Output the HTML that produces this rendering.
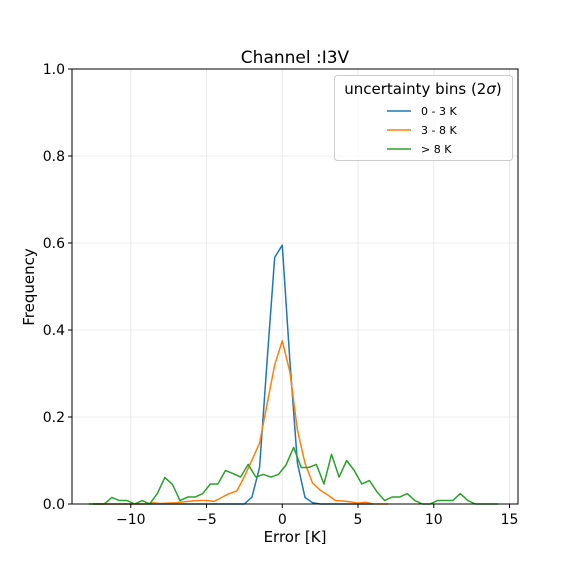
<!DOCTYPE html>
<html><head><meta charset="utf-8"><style>
html,body{margin:0;padding:0;background:#fff;}
svg{display:block;font-family:"DejaVu Sans","Liberation Sans",sans-serif;}
</style></head><body>
<svg id="chart" width="576" height="576" viewBox="0 0 576 576">
<rect width="576" height="576" fill="#fff"/>
<g id="grid"></g>
<g id="series"></g>
<rect x="72" y="69" width="446" height="435" fill="none" stroke="#000" stroke-width="1"/>
<g id="ticks"></g>
<text x="295" y="63" text-anchor="middle" font-size="17">Channel :I3V</text>
<text x="295" y="542" text-anchor="middle" font-size="15">Error [K]</text>
<text transform="translate(34,287) rotate(-90)" text-anchor="middle" font-size="15">Frequency</text>
<g>
<rect x="334.5" y="75.5" width="178" height="85" rx="3" fill="#fff" fill-opacity="0.8" stroke="#ccc"/>
<text x="423" y="94" text-anchor="middle" font-size="15">uncertainty bins (2<tspan font-style="italic">σ</tspan>)</text>
<line x1="387" y1="111" x2="411" y2="111" stroke="#1f77b4" stroke-width="1.5"/>
<text x="421" y="115" font-size="11">0 - 3 K</text>
<line x1="387" y1="130" x2="411" y2="130" stroke="#ff7f0e" stroke-width="1.5"/>
<text x="421" y="134" font-size="11">3 - 8 K</text>
<line x1="387" y1="149" x2="411" y2="149" stroke="#2ca02c" stroke-width="1.5"/>
<text x="421" y="153" font-size="11">&gt; 8 K</text>
</g>
</svg>
<script>
const xTicks = [-10, -5, 0, 5, 10, 15];
const yTicks = [0, 0.2, 0.4, 0.6, 0.8, 1.0];
const yTickLabels = ["0.0", "0.2", "0.4", "0.6", "0.8", "1.0"];
const blueX = [-12.5,-12,-11.5,-11,-10.5,-10,-9.5,-9,-8.5,-8,-7.5,-7,-6.5,-6,-5.5,-5,-4.5,-4,-3.5,-3,-2.5,-2,-1.5,-1,-0.5,0,0.5,1,1.5,2,2.5,3,3.5,4,4.5,5,5.5,6];
const blueY = [0,0,0,0,0,0,0,0,0,0,0,0,0,0,0,0,0,0,0,0,0,0.016,0.084,0.33,0.567,0.595,0.33,0.094,0.015,0.003,0,0,0,0,0,0,0,0];
const orangeX = [-12.5,-12,-11.5,-11,-10.5,-10,-9.5,-9,-8.5,-8,-7.5,-7,-6.5,-6,-5.5,-5,-4.5,-4,-3.5,-3,-2.5,-2,-1.5,-1,-0.5,0,0.5,1,1.5,2,2.5,3,3.5,4,4.5,5,5.5,6,6.5,7];
const orangeY = [0,0,0,0,0,0,0,0,0.003,0.001,0.002,0.003,0.005,0.007,0.008,0.008,0.006,0.015,0.024,0.03,0.063,0.101,0.14,0.23,0.32,0.375,0.304,0.17,0.094,0.048,0.032,0.021,0.008,0.007,0.005,0.002,0.004,0,0,0];
const greenX = [-12.75,-12.25,-11.75,-11.25,-10.75,-10.25,-9.75,-9.25,-8.75,-8.25,-7.75,-7.25,-6.75,-6.25,-5.75,-5.25,-4.75,-4.25,-3.75,-3.25,-2.75,-2.25,-1.75,-1.25,-0.75,-0.25,0.25,0.75,1.25,1.75,2.25,2.75,3.25,3.75,4.25,4.75,5.25,5.75,6.25,6.75,7.25,7.75,8.25,8.75,9.25,9.75,10.25,10.75,11.25,11.75,12.25,12.75,13.25,13.75,14.25];
const greenY = [0,0,0,0.015,0.008,0.008,0,0.008,0,0.024,0.061,0.045,0.008,0.016,0.016,0.024,0.046,0.046,0.077,0.07,0.062,0.091,0.062,0.068,0.062,0.068,0.09,0.13,0.084,0.084,0.091,0.046,0.114,0.062,0.1,0.077,0.046,0.054,0.028,0.008,0.016,0.016,0.024,0.008,0,0,0.008,0.008,0.008,0.024,0.008,0,0,0,0];

const NS = "http://www.w3.org/2000/svg";
const L = 72, R = 518, T = 69, B = 504;
const xMin = -13.88, xMax = 15.56;
function xs(v){ return L + (v - xMin) / (xMax - xMin) * (R - L); }
function ys(v){ return B - v * (B - T); }
const grid = document.getElementById('grid');
const ticks = document.getElementById('ticks');
const series = document.getElementById('series');
function mk(tag, attrs, parent){ const e = document.createElementNS(NS, tag); for (const k in attrs) e.setAttribute(k, attrs[k]); parent.appendChild(e); return e; }
xTicks.forEach(v => {
  const x = xs(v);
  const g = mk('line', {x1:x, x2:x, y1:T, y2:B, stroke:'#e6e6e6', 'stroke-width':0.8}, grid);
  
  
  const t = mk('line', {x1:x, x2:x, y1:B, y2:B+4, stroke:'#000'}, ticks);
  
  
  const lb = mk('text', {x:x, y:B+20, 'text-anchor':'middle', 'font-size':14}, ticks);
  lb.textContent = v < 0 ? '\u2212' + Math.abs(v) : String(v);
  
  
});
yTicks.forEach((v, i) => {
  const y = ys(v);
  const g = mk('line', {x1:L, x2:R, y1:y, y2:y, stroke:'#e6e6e6', 'stroke-width':0.8}, grid);
  
  
  const t = mk('line', {x1:L-4, x2:L, y1:y, y2:y, stroke:'#000'}, ticks);
  
  
  const lb = mk('text', {x:L-7, y:y+5, 'text-anchor':'end', 'font-size':14}, ticks);
  lb.textContent = yTickLabels[i];
  
  
});
function line(xa, ya, color, name){
  const d = xa.map((v, i) => (i ? 'L' : 'M') + xs(v).toFixed(2) + ',' + ys(ya[i]).toFixed(2)).join(' ');
  const p = mk('path', {d:d, fill:'none', stroke:color, 'stroke-width':1.5, 'stroke-linejoin':'round'}, series);
  
  
}
line(blueX, blueY, '#1f77b4', 'series-0-3k-line');
line(orangeX, orangeY, '#ff7f0e', 'series-3-8k-line');
line(greenX, greenY, '#2ca02c', 'series-gt-8k-line');
</script>
</body></html>
